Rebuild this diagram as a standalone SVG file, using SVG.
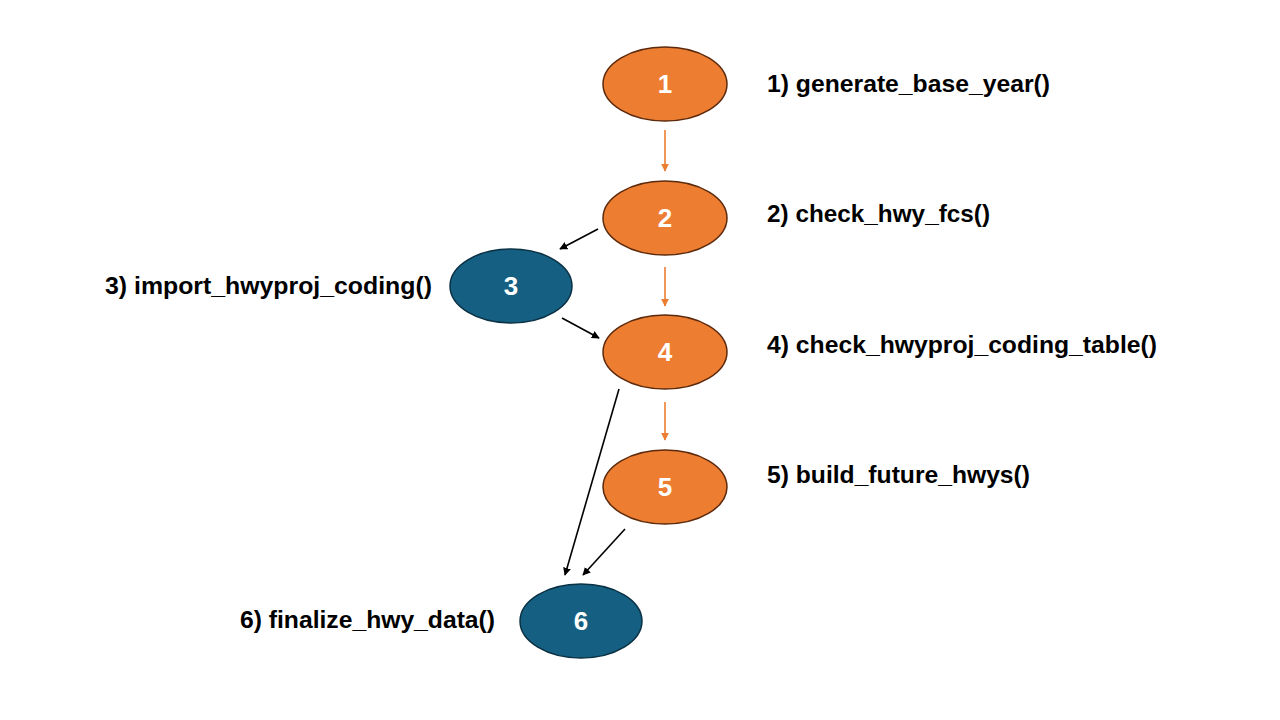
<svg xmlns="http://www.w3.org/2000/svg" width="1280" height="720" viewBox="0 0 1280 720">
  <defs>
    <style>
      .step { fill: #ED7D31; stroke: #5C2A0C; stroke-width: 1.5; }
      .side { fill: #156082; stroke: #0B3145; stroke-width: 1.5; }
      .num { font-family: "Liberation Sans", Arial, sans-serif; font-weight: bold; font-size: 26px; fill: #FFFFFF; text-anchor: middle; }
      .label { font-family: "Liberation Sans", Arial, sans-serif; font-weight: bold; font-size: 24px; fill: #000000; }
      .flow { stroke: #ED7D31; stroke-width: 1.6; fill: none; marker-end: url(#headOrange); }
      .link { stroke: #000000; stroke-width: 1.6; fill: none; marker-end: url(#headBlack); }
    </style>
    <marker id="headOrange" viewBox="0 0 10 10" refX="9" refY="5" markerWidth="5" markerHeight="5" orient="auto" markerUnits="strokeWidth">
      <path d="M0,0 L10,5 L0,10 z" fill="#ED7D31"/>
    </marker>
    <marker id="headBlack" viewBox="0 0 10 10" refX="9" refY="5" markerWidth="5" markerHeight="5" orient="auto" markerUnits="strokeWidth">
      <path d="M0,0 L10,5 L0,10 z" fill="#000000"/>
    </marker>
  </defs>

  <rect width="1280" height="720" fill="#FFFFFF"/>

  <g id="connectors">
    <line class="flow" x1="665" y1="130" x2="665" y2="171"/>
    <line class="flow" x1="665" y1="267" x2="665" y2="306"/>
    <line class="flow" x1="665" y1="402" x2="665" y2="440"/>
    <line class="link" x1="598" y1="229" x2="560" y2="249"/>
    <line class="link" x1="562" y1="318" x2="599" y2="338"/>
    <line class="link" x1="619" y1="389" x2="565" y2="575"/>
    <line class="link" x1="625" y1="529" x2="583" y2="575"/>
  </g>

  <g id="node1">
    <ellipse class="step" cx="665" cy="84" rx="62" ry="37"/>
    <text class="num" x="665" y="93">1</text>
    <text class="label" x="767" y="92" textLength="283" lengthAdjust="spacingAndGlyphs">1) generate_base_year()</text>
  </g>
  <g id="node2">
    <ellipse class="step" cx="665" cy="218" rx="62" ry="37"/>
    <text class="num" x="665" y="227">2</text>
    <text class="label" x="767" y="222" textLength="223" lengthAdjust="spacingAndGlyphs">2) check_hwy_fcs()</text>
  </g>
  <g id="node3">
    <ellipse class="side" cx="511" cy="286" rx="61" ry="37"/>
    <text class="num" x="511" y="295">3</text>
    <text class="label" x="105" y="294" textLength="327" lengthAdjust="spacingAndGlyphs">3) import_hwyproj_coding()</text>
  </g>
  <g id="node4">
    <ellipse class="step" cx="665" cy="352" rx="62" ry="37"/>
    <text class="num" x="665" y="361">4</text>
    <text class="label" x="767" y="353" textLength="390" lengthAdjust="spacingAndGlyphs">4) check_hwyproj_coding_table()</text>
  </g>
  <g id="node5">
    <ellipse class="step" cx="665" cy="487" rx="62" ry="37"/>
    <text class="num" x="665" y="496">5</text>
    <text class="label" x="767" y="483" textLength="263" lengthAdjust="spacingAndGlyphs">5) build_future_hwys()</text>
  </g>
  <g id="node6">
    <ellipse class="side" cx="581" cy="621" rx="61" ry="37"/>
    <text class="num" x="581" y="630">6</text>
    <text class="label" x="240" y="628" textLength="255" lengthAdjust="spacingAndGlyphs">6) finalize_hwy_data()</text>
  </g>
</svg>
